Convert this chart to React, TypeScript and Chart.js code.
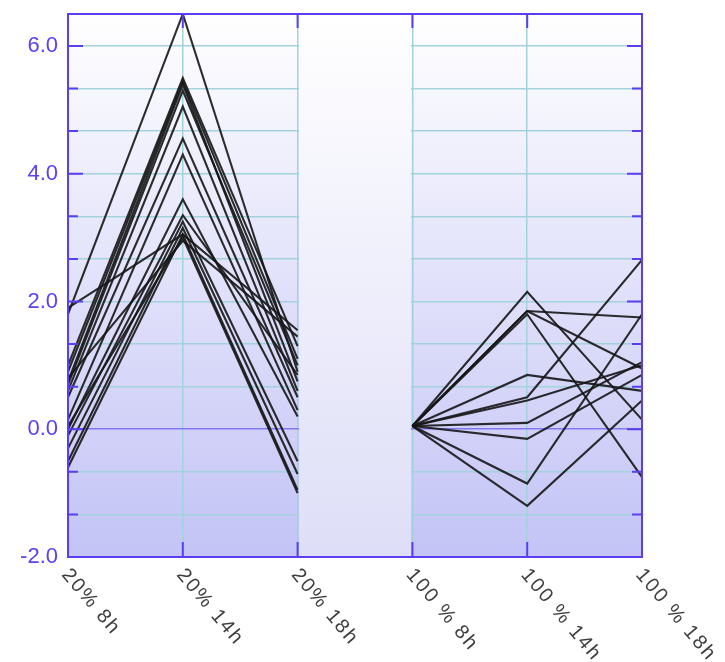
import React, { useEffect, useRef } from 'react';
import { Chart, registerables } from 'chart.js';

Chart.register(...registerables);

const categories = ['20% 8h', '20% 14h', '20% 18h', '100 % 8h', '100 % 14h', '100 % 18h'];
const yLabelValues = [-2, 0, 2, 4, 6];
const yMin = -2;
const yMax = 6.5;
const gridStep = 2 / 3;

// values at 20% 8h, 20% 14h, 20% 18h
const group20: number[][] = [
  [1.8, 6.5, 0.9],
  [1.9, 3.05, 1.55],
  [1.0, 5.5, 1.3],
  [0.9, 5.45, 1.1],
  [0.75, 5.4, 0.75],
  [0.7, 5.3, 1.0],
  [0.6, 5.05, 0.6],
  [0.5, 4.55, 0.5],
  [0.15, 4.3, 0.3],
  [0.0, 3.6, 0.2],
  [-0.1, 3.35, 0.85],
  [-0.3, 3.25, -0.5],
  [-0.5, 3.15, -0.7],
  [-0.6, 3.05, -0.95],
  [0.05, 3.0, -1.0],
  [0.8, 2.95, 1.45],
];

// values at 100% 8h, 100% 14h, 100% 18h
const group100: number[][] = [
  [0.05, 2.15, 0.15],
  [0.05, 1.85, 1.75],
  [0.05, 1.85, 0.95],
  [0.05, 1.8, -0.75],
  [0.05, 0.85, 0.6],
  [0.05, 0.5, 2.65],
  [0.05, 0.45, 1.0],
  [0.05, 0.1, 1.05],
  [0.05, -0.15, 0.85],
  [0.05, -0.85, 1.8],
  [0.05, -1.2, 0.45],
];

const AXIS = '#5a3ef2';
const GRID = '#a2d2dc';
const LINE = 'rgba(22,22,22,0.9)';

export default function App() {
  const ref = useRef<HTMLCanvasElement | null>(null);

  useEffect(() => {
    document.body.style.margin = '0';
    const canvas = ref.current;
    if (!canvas) return;

    const datasets = [
      ...group20.map((v) => ({ data: [v[0], v[1], v[2], null, null, null] })),
      ...group100.map((v) => ({ data: [null, null, null, v[0], v[1], v[2]] })),
    ].map((d) => ({
      ...d,
      borderColor: LINE,
      borderWidth: 2.1,
      pointRadius: 0,
      tension: 0,
      fill: false,
      spanGaps: false,
    }));

    const bgPlugin = {
      id: 'bg',
      beforeDraw(chart: any) {
        const { ctx, chartArea: a } = chart;
        const g = ctx.createLinearGradient(0, a.top, 0, a.bottom);
        g.addColorStop(0, '#ffffff');
        g.addColorStop(1, '#c3c3f6');
        ctx.save();
        ctx.fillStyle = g;
        ctx.fillRect(a.left, a.top, a.right - a.left, a.bottom - a.top);
        ctx.restore();
      },
      beforeDatasetsDraw(chart: any) {
        const { ctx, chartArea: a } = chart;
        const x = chart.scales.x;
        const x1 = x.getPixelForValue(2);
        const x2 = x.getPixelForValue(3);
        const g = ctx.createLinearGradient(0, a.top, 0, a.bottom);
        g.addColorStop(0, '#ffffff');
        g.addColorStop(1, '#dedef8');
        ctx.save();
        ctx.fillStyle = g;
        ctx.fillRect(x1 + 1.5, a.top, x2 - x1 - 3, a.bottom - a.top);
        ctx.restore();
      },
      afterDatasetsDraw(chart: any) {
        const { ctx, chartArea: a } = chart;
        const xs = chart.scales.x;
        const ys = chart.scales.y;
        ctx.save();
        ctx.strokeStyle = AXIS;
        ctx.lineWidth = 2;
        ctx.strokeRect(a.left, a.top, a.right - a.left, a.bottom - a.top);
        // y ticks (left and right, inward)
        ys.ticks.forEach((t: any) => {
          const y = ys.getPixelForValue(t.value);
          const major = yLabelValues.some((v) => Math.abs(v - t.value) < 1e-6);
          const len = major ? 15 : 10;
          ctx.beginPath();
          ctx.moveTo(a.left, y);
          ctx.lineTo(a.left + len, y);
          ctx.moveTo(a.right, y);
          ctx.lineTo(a.right - len, y);
          ctx.stroke();
        });
        // x ticks (bottom and top, inward)
        categories.forEach((_, i) => {
          const x = xs.getPixelForValue(i);
          ctx.beginPath();
          ctx.moveTo(x, a.bottom);
          ctx.lineTo(x, a.bottom - 15);
          ctx.moveTo(x, a.top);
          ctx.lineTo(x, a.top + 14);
          ctx.stroke();
        });
        // rotated category labels
        ctx.fillStyle = '#3e3e3e';
        ctx.font = '20px "Liberation Sans", Arial, sans-serif';
        (ctx as any).letterSpacing = '2px';
        ctx.textAlign = 'left';
        ctx.textBaseline = 'top';
        categories.forEach((c, i) => {
          const x = xs.getPixelForValue(i);
          ctx.save();
          ctx.translate(x + 5, a.bottom + 8);
          ctx.rotate((50 * Math.PI) / 180);
          ctx.fillText(c, 0, 0);
          ctx.restore();
        });
        ctx.restore();
      },
    };

    const chart = new Chart(canvas, {
      type: 'line',
      data: { labels: categories, datasets: datasets as any },
      plugins: [bgPlugin],
      options: {
        animation: false,
        responsive: false,
        layout: { padding: { top: 14, right: 83, left: 0, bottom: 0 } },
        plugins: { legend: { display: false }, tooltip: { enabled: false } },
        scales: {
          x: {
            type: 'category',
            offset: false,
            afterFit: (s: any) => {
              s.height = 105;
              s.paddingLeft = 0;
              s.paddingRight = 0;
            },
            grid: { color: GRID, lineWidth: 1.5, drawTicks: false },
            border: { display: false },
            ticks: { display: false },
          },
          y: {
            type: 'linear',
            min: yMin,
            max: yMax,
            afterFit: (s: any) => {
              s.width = 68;
              s.paddingTop = 0;
              s.paddingBottom = 0;
            },
            afterBuildTicks: (s: any) => {
              const ticks = [];
              for (let k = 0; yMin + k * gridStep <= 6.0001; k++) {
                ticks.push({ value: yMin + k * gridStep });
              }
              s.ticks = ticks;
            },
            grid: {
              color: (c: any) => (Math.abs(c.tick?.value ?? 1) < 1e-6 ? '#8478f0' : GRID),
              lineWidth: 1.5,
              drawTicks: false,
            },
            border: { display: false },
            ticks: {
              padding: 10,
              color: '#5a42f0',
              font: { family: '"Liberation Sans", Arial, sans-serif', size: 22 },
              callback: (v: any) => {
                const n = Number(v);
                return yLabelValues.some((t) => Math.abs(t - n) < 1e-6) ? n.toFixed(1) : '';
              },
            },
          },
        },
      },
    });

    return () => chart.destroy();
  }, []);

  return <canvas ref={ref} width={725} height={662} style={{ display: 'block' }} />;
}
